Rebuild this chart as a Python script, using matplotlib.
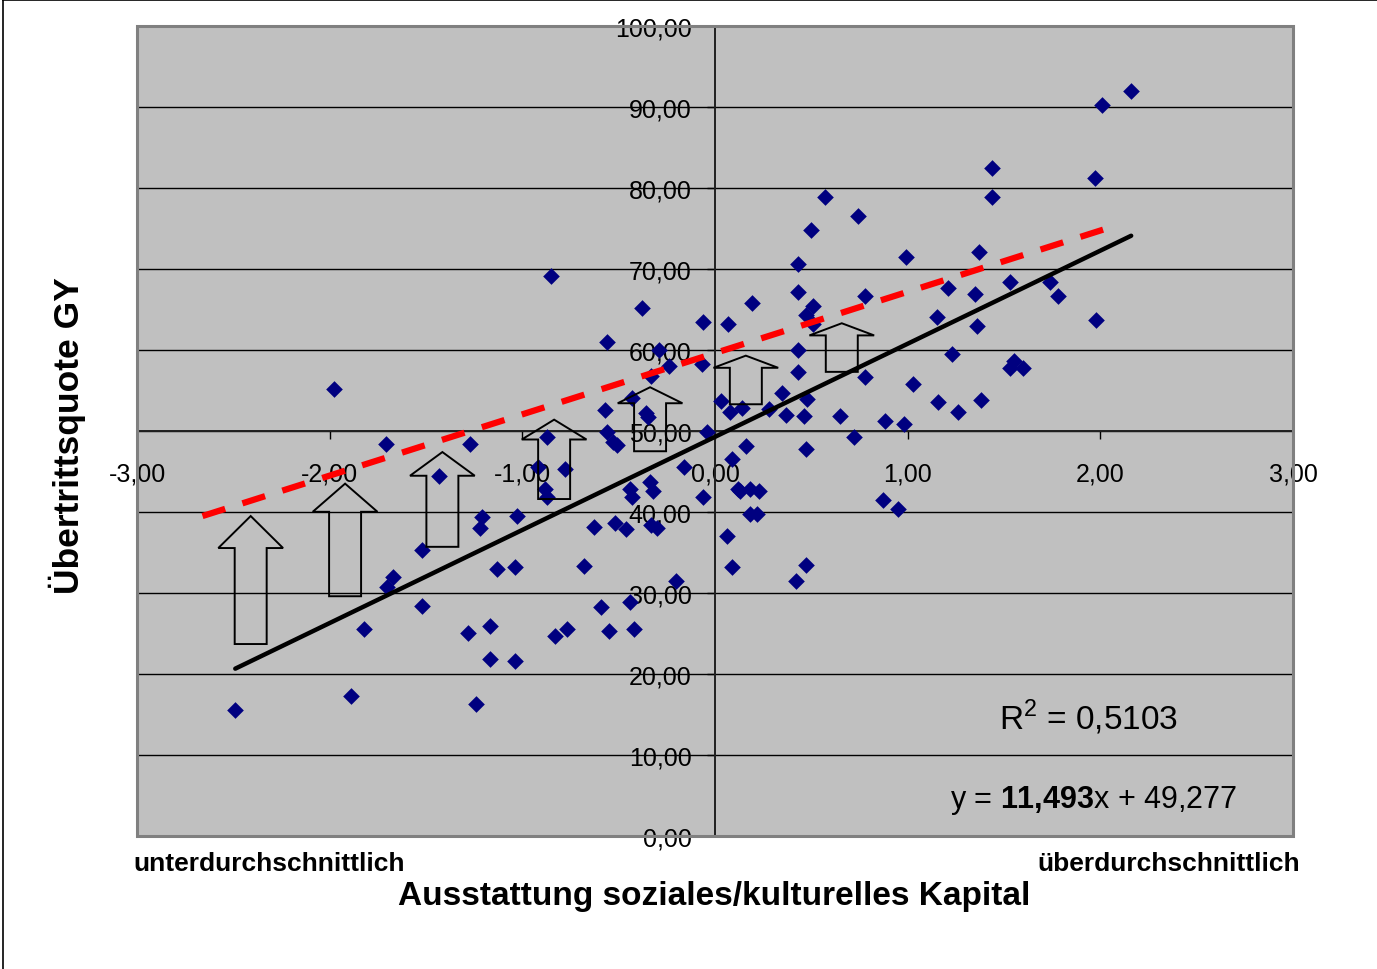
import numpy as np
import matplotlib
matplotlib.use("Agg")
import matplotlib.pyplot as plt
from matplotlib.patches import Polygon, Rectangle
from matplotlib.lines import Line2D
from matplotlib.ticker import FuncFormatter, MultipleLocator

plt.rcParams["font.family"] = ["Liberation Sans", "DejaVu Sans"]
plt.rcParams["mathtext.fontset"] = "custom"
plt.rcParams["mathtext.rm"] = "Liberation Sans"
plt.rcParams["mathtext.bf"] = "Liberation Sans:bold"

# Ausstattung soziales/kulturelles Kapital (x) vs. Übertrittsquote GY (y)
kapital = [
    -2.49, -1.98, -1.89, -1.71, -1.82, -1.67, -1.70, -1.52, -1.52, -1.43,
    -1.27, -0.85, -1.21, -1.22, -1.03, -1.13, -1.04, -1.28, -1.17, -1.17,
    -1.04, -1.24, -0.87, -0.92, -0.78, -0.88, -0.87, -0.68, -0.63, -0.59,
    -0.55, -0.83, -0.77, -0.57, -0.56, -0.56, -0.53, -0.51, -0.52, -0.46,
    -0.44, -0.42, -0.38, -0.43, -0.36, -0.35, -0.33, -0.29, -0.24, -0.44,
    -0.43, -0.34, -0.32, -0.33, -0.30, -0.20, -0.16, -0.06, -0.06, 0.07,
    -0.07, -0.04, 0.03, 0.08, 0.09, 0.12, 0.06, 0.09, 0.19, 0.14,
    0.28, 0.35, 0.37, 0.43, 0.43, 0.50, 0.57, 0.74, 0.51, 0.47,
    0.51, 0.43, 0.43, 0.48, 0.46, 0.47, 0.65, 0.72, 0.78, 0.78,
    0.88, 0.98, 0.99, 1.03, 1.15, 1.21, 1.23, 1.16, 1.26, 1.37,
    1.35, 1.36, 1.38, 1.44, 1.44, 0.87, 0.95, 0.16, 0.13, 0.18,
    0.23, 0.18, 0.22, 0.42, 0.47, 2.16, 2.01, 1.97, 1.53, 1.74,
    1.78, 1.98, 1.55, 1.53, 1.60,
]
quote = [
    15.6, 55.2, 17.3, 48.4, 25.6, 32.0, 30.7, 35.3, 28.4, 44.4,
    48.4, 69.1, 39.4, 38.0, 39.5, 33.0, 33.2, 25.1, 25.9, 21.9,
    21.6, 16.3, 49.3, 45.6, 45.3, 42.8, 41.9, 33.3, 38.1, 28.3,
    25.3, 24.7, 25.6, 52.6, 61.0, 49.9, 48.6, 48.3, 38.6, 37.9,
    28.9, 25.6, 65.2, 54.1, 52.2, 51.7, 56.8, 60.0, 58.0, 42.8,
    41.9, 43.7, 42.6, 38.4, 38.0, 31.5, 45.6, 41.9, 63.5, 63.2,
    58.3, 49.9, 53.7, 52.3, 46.5, 42.8, 37.0, 33.2, 65.8, 52.8,
    52.7, 54.7, 52.0, 70.6, 67.2, 74.8, 78.9, 76.5, 65.4, 64.3,
    63.2, 60.0, 57.3, 54.0, 51.9, 47.8, 51.9, 49.3, 66.7, 56.7,
    51.2, 50.9, 71.5, 55.8, 64.1, 67.7, 59.5, 53.6, 52.3, 72.1,
    66.9, 63.0, 53.8, 78.9, 82.5, 41.5, 40.4, 48.1, 42.6, 42.8,
    42.6, 39.8, 39.8, 31.5, 33.5, 92.0, 90.2, 81.2, 68.4, 68.4,
    66.7, 63.7, 58.6, 57.8, 57.8,
]

# Trendlinie (Excel)
slope = 11.493
intercept = 49.277
r_squared = 0.5103

# rote gestrichelte Linie: Endpunkte
ziel_x = [-2.66, 2.06]
ziel_y = [39.5, 75.2]

# Block-Pfeile: Mitte x, Fuss, Spitze
pfeil_x = [-2.41, -1.92, -1.415, -0.835, -0.337, 0.16, 0.658]
pfeil_von = [23.7, 29.6, 35.7, 41.6, 47.5, 53.3, 57.3]
pfeil_bis = [39.5, 43.5, 47.4, 51.4, 55.4, 59.3, 63.3]


def comma_fmt(v, pos):
    return f"{v:.2f}".replace(".", ",")


def block_arrow(cx, y0, y1, shaft=0.083, head=0.168):
    hb = y1 - 0.25 * (y1 - y0)
    pts = [(cx - shaft, y0), (cx + shaft, y0), (cx + shaft, hb),
           (cx + head, hb), (cx, y1), (cx - head, hb), (cx - shaft, hb)]
    return Polygon(pts, closed=True, fill=False, edgecolor="black",
                   linewidth=1.4, zorder=5)


fig = plt.figure(figsize=(13.77, 9.70), dpi=100)
ax = fig.add_axes([0.0995, 0.1371, 0.8395, 0.8351])
ax.set_facecolor("#C0C0C0")

x = np.array(kapital)
y = np.array(quote)
ax.scatter(x, y, marker="D", s=72, color="#000080", linewidths=0, zorder=3)

xl = np.array([x.min(), x.max()])
ax.plot(xl, slope * xl + intercept, color="black", linewidth=3.2,
        solid_capstyle="round", zorder=4)
ax.plot(ziel_x, ziel_y, color="#FF0000", linewidth=4.5,
        dashes=(3.8, 2.9), zorder=4)

for cx, y0, y1 in zip(pfeil_x, pfeil_von, pfeil_bis):
    ax.add_patch(block_arrow(cx, y0, y1))

ax.set_xlim(-3, 3)
ax.set_ylim(0, 100)
ax.xaxis.set_major_locator(MultipleLocator(1))
ax.yaxis.set_major_locator(MultipleLocator(10))
ax.xaxis.set_major_formatter(FuncFormatter(comma_fmt))
ax.yaxis.set_major_formatter(FuncFormatter(comma_fmt))

# Achsen kreuzen bei (0, 50)
ax.spines["left"].set_position(("data", 0))
ax.spines["bottom"].set_position(("data", 50))
ax.spines["top"].set_visible(False)
ax.spines["right"].set_visible(False)
for s in ("left", "bottom"):
    ax.spines[s].set_color("#202020")
    ax.spines[s].set_linewidth(1.4)
    ax.spines[s].set_zorder(2)

ax.yaxis.grid(True, color="black", linewidth=1.0)
ax.set_axisbelow(True)
ax.tick_params(axis="y", direction="out", length=6, width=1, pad=11,
               labelsize=18, colors="black")
ax.tick_params(axis="x", direction="out", length=6, width=1, pad=16,
               labelsize=18, colors="black")

ax.add_patch(Rectangle((0, 0), 1, 1, transform=ax.transAxes, fill=False,
                       edgecolor="#808080", linewidth=2.2, clip_on=False,
                       zorder=6))

ax.text(1.94, 14.8, f"R$^2$ = {r_squared:.4f}".replace(".", ","),
        fontsize=24, ha="center", va="center", zorder=7)
ax.text(1.966, 4.5, r"y = $\mathbf{11{,}493}$x + 49,277",
        fontsize=22, ha="center", va="center", zorder=7)

fig.text(0.049, 0.551, "Übertrittsquote GY", rotation=90, fontsize=25.5,
         fontweight="bold", ha="center", va="center")
fig.text(0.519, 0.0753, "Ausstattung soziales/kulturelles Kapital",
         fontsize=24, fontweight="bold", ha="center", va="center")
fig.text(0.0966, 0.1093, "unterdurchschnittlich", fontsize=19,
         fontweight="bold", ha="left", va="center")
fig.text(0.944, 0.1093, "überdurchschnittlich", fontsize=19,
         fontweight="bold", ha="right", va="center")

# Rahmen der Grafik (oben und links sichtbar)
fig.add_artist(Line2D([0.0025, 0.0025], [0, 1], color="black",
                      linewidth=1.2, transform=fig.transFigure))
fig.add_artist(Line2D([0.0025, 1], [0.999, 0.999], color="black",
                      linewidth=1.2, transform=fig.transFigure))

fig.savefig("out.png", dpi=100)
plt.close(fig)
